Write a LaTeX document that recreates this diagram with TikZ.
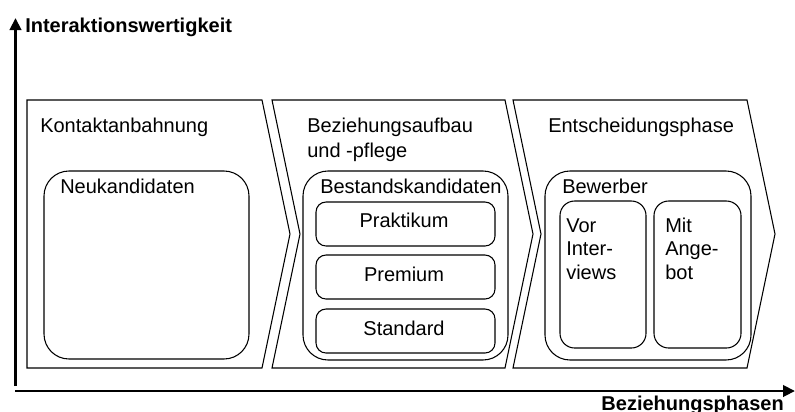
\documentclass[tikz,border=0pt]{standalone}
\usepackage{fontspec}
\setmainfont{Liberation Sans}
\usetikzlibrary{arrows.meta,fit}
\begin{document}
\begin{tikzpicture}[x=0.75pt,y=-0.75pt,
  phase/.style={draw=black,line width=0.8pt,line join=miter},
  rbox/.style={draw=black,line width=0.8pt,inner sep=0pt,rounded corners=#1},
  rbox/.default=18.75pt,
  axis/.style={line width=2.2pt,-{Triangle[length=9pt,width=8.5pt]}},
  axislabel/.style={inner sep=0pt,font=\fontsize{15}{18}\selectfont\bfseries},
  title/.style={anchor=base west,inner sep=0pt,align=left,font=\fontsize{15}{18.75}\selectfont},
  group/.style={anchor=base west,inner sep=0pt,font=\fontsize{15}{18}\selectfont},
  seg/.style={anchor=base,inner sep=0pt,font=\fontsize{15}{18}\selectfont},
  sub/.style={anchor=base west,inner sep=0pt,align=left,font=\fontsize{15}{17.6}\selectfont}
]
\useasboundingbox (0,0) rectangle (795,411);

% axes
\coordinate (yfoot) at (15.5,386);
\coordinate (ytip) at (15.5,18);
\coordinate (xfoot) at (15,391);
\coordinate (xtip) at (795,391);
\draw[axis] (yfoot) -- (ytip);
\draw[axis] (xfoot) -- (xtip);
\node[axislabel,anchor=base west] (ylab) at (25,32) {Interaktionswertigkeit};
\node[axislabel,anchor=base east] (xlab) at (784,410) {Beziehungsphasen};

% phase chevrons
\draw[phase] (27,100) -- (262,100) -- (290,234) -- (262,368) -- (27,368) -- cycle;
\draw[phase] (272,100) -- (505,100) -- (533,234) -- (505,368) -- (272,368) -- (300,234) -- cycle;
\draw[phase] (513,100) -- (747,100) -- (775,234) -- (747,368) -- (513,368) -- (541,234) -- cycle;

% phase titles (multi-line nodes are placed by the baseline of their last line)
\node[title] (p1) at (40,132) {Kontaktanbahnung};
\node[title] (p2) at (307,157) {Beziehungsaufbau\\und -pflege};
\node[title] (p3) at (548,132) {Entscheidungsphase};

% candidate groups
\node[rbox,fit={(44,171) (249,359)}] (neu) {};
\node[group] (neut) at (60,193) {Neukandidaten};

\node[rbox,fit={(303,171) (508,360)}] (best) {};
\node[group] (bestt) at (320,193) {Bestandskandidaten};
\node[rbox=7.5pt,fit={(316,202) (495,246)}] (prak) {};
\node[rbox=7.5pt,fit={(316,255) (495,299)}] (prem) {};
\node[rbox=7.5pt,fit={(316,309) (495,353)}] (stan) {};
\node[seg] at (404,227) {Praktikum};
\node[seg] at (404,281) {Premium};
\node[seg] at (404,335) {Standard};

\node[rbox,fit={(545,171) (751,360)}] (bew) {};
\node[group] (bewt) at (562,193) {Bewerber};
\node[rbox=11pt,fit={(560,201) (646,348)}] (vor) {};
\node[rbox=11pt,fit={(654,201) (741,348)}] (mit) {};
\node[sub] (vort) at (566,279) {Vor\\Inter-\\views};
\node[sub] (mitt) at (665,279) {Mit\\Ange-\\bot};
\end{tikzpicture}
\end{document}
